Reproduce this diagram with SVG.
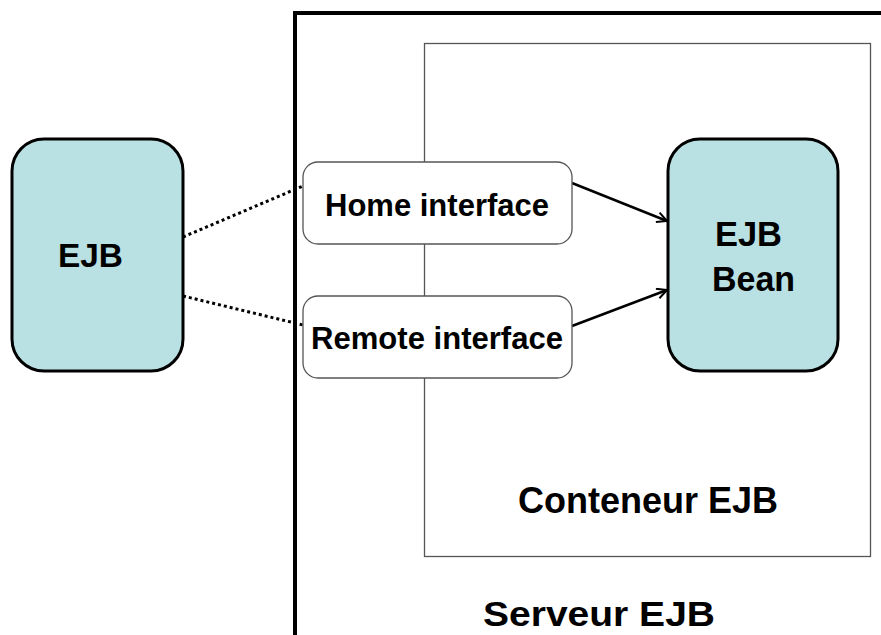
<svg xmlns="http://www.w3.org/2000/svg" width="881" height="635" viewBox="0 0 881 635">
<defs>
<style>
.lbl{font-family:"Liberation Sans",Arial,sans-serif;font-weight:bold;fill:#000;text-anchor:middle}
.ejb{fill:#b9e0e3;stroke:#000;stroke-width:3}
.itf{fill:#fff;stroke:#555;stroke-width:1.3}
.dot{stroke:#000;stroke-width:3;stroke-dasharray:3 3;fill:none}
.arr{stroke:#000;stroke-width:2.5;fill:none;marker-end:url(#ah)}
</style>
<marker id="ah" viewBox="0 0 12 12" refX="11" refY="6" markerWidth="12" markerHeight="12" markerUnits="userSpaceOnUse" orient="auto">
<path d="M1,1 L11,6 L1,11" fill="none" stroke="#000" stroke-width="2"/>
</marker>
</defs>
<rect width="881" height="635" fill="#fff"/>
<g id="serveur">
<path d="M295,640 L295,13 L890,13" fill="none" stroke="#000" stroke-width="4"/>
<text class="lbl" x="599" y="626" font-size="35" textLength="232" lengthAdjust="spacingAndGlyphs">Serveur EJB</text>
</g>
<g id="conteneur">
<rect x="424.5" y="43.5" width="446" height="513" fill="none" stroke="#555" stroke-width="1.3"/>
<text class="lbl" x="648" y="513" font-size="36" textLength="260" lengthAdjust="spacingAndGlyphs">Conteneur EJB</text>
</g>
<g id="connectors">
<line class="dot" x1="183" y1="237" x2="303" y2="186"/>
<line class="dot" x1="183" y1="296" x2="303" y2="325"/>
<line class="arr" x1="572" y1="183" x2="667" y2="221"/>
<line class="arr" x1="572" y1="326" x2="667" y2="290"/>
</g>
<g id="client">
<rect class="ejb" x="12" y="139" width="171" height="232" rx="32"/>
<text class="lbl" x="90.5" y="267" font-size="34" textLength="65" lengthAdjust="spacingAndGlyphs">EJB</text>
</g>
<g id="home">
<rect class="itf" x="303" y="162" width="269" height="82" rx="15"/>
<text class="lbl" x="437" y="216" font-size="32" textLength="224" lengthAdjust="spacingAndGlyphs">Home interface</text>
</g>
<g id="remote">
<rect class="itf" x="303" y="296" width="269" height="82" rx="15"/>
<text class="lbl" x="437" y="349" font-size="32" textLength="252" lengthAdjust="spacingAndGlyphs">Remote interface</text>
</g>
<g id="bean">
<rect class="ejb" x="668" y="139" width="170" height="232" rx="32"/>
<text class="lbl" x="748.5" y="246" font-size="35" textLength="67" lengthAdjust="spacingAndGlyphs">EJB</text>
<text class="lbl" x="753.5" y="291" font-size="35" textLength="83" lengthAdjust="spacingAndGlyphs">Bean</text>
</g>
</svg>
